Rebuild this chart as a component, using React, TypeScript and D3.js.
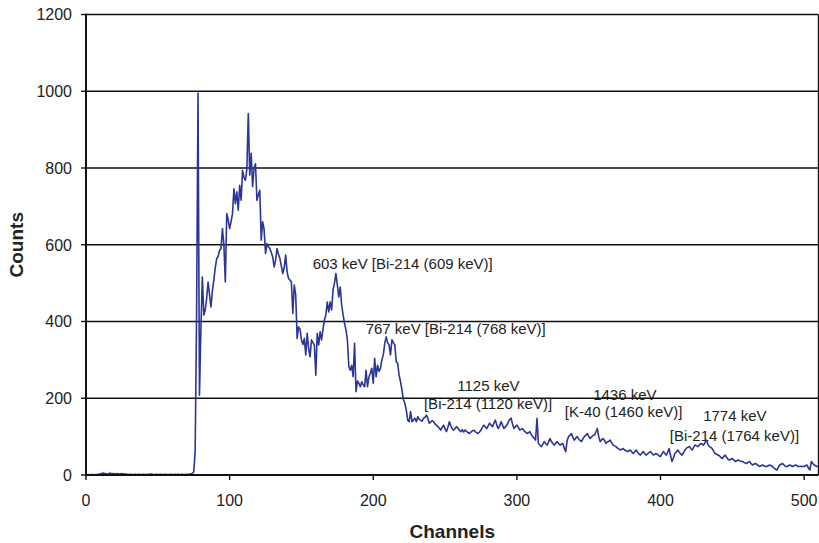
import React from 'react';
import * as d3 from 'd3';

// spectrum, one value per channel starting at channel 1
const firstChannel = 1;
const counts = [
  0, 1, 0, 1, 1, 0, 1, 1, 2,
  3, 4, 5, 4, 3, 2, 4, 5, 3, 4,
  3, 3, 4, 2, 3, 4, 2, 3, 2, 2,
  1, 2, 1, 1, 2, 1, 1, 2, 1, 1,
  2, 1, 1, 2, 1, 3, 2, 1, 1, 2,
  1, 1, 2, 1, 1, 2, 1, 1, 1, 2,
  1, 1, 2, 1, 2, 1, 1, 2, 1, 1,
  2, 1, 2, 3, 4, 8, 60, 420, 995, 208,
  380, 516, 417, 430, 460, 503, 470, 438, 480, 508,
  540, 564, 570, 586, 590, 642, 600, 503, 681, 665,
  642, 660, 681, 746, 707, 738, 690, 755, 716, 794,
  775, 768, 798, 942, 781, 838, 751, 800, 811, 716,
  730, 742, 612, 660, 640, 577, 603, 595, 590, 580,
  568, 542, 560, 590, 575, 564, 545, 525, 540, 573,
  530, 512, 508, 503, 421, 495, 470, 356, 386, 380,
  352, 340, 356, 313, 369, 330, 308, 352, 345, 339,
  260, 369, 339, 373, 352, 380, 404, 417, 451, 425,
  451, 430, 482, 500, 525, 495, 464, 490, 443, 417,
  395, 378, 352, 282, 273, 286, 256, 343, 217, 245,
  239, 230, 243, 235, 230, 273, 230, 256, 265, 278,
  239, 304, 256, 286, 270, 278, 300, 313, 343, 360,
  345, 339, 313, 352, 345, 339, 295, 291, 260, 243,
  221, 196, 187, 169, 143, 139, 165, 139, 143, 148,
  139, 152, 145, 143, 140, 148, 150, 156, 148, 135,
  138, 142, 139, 133, 130, 126, 122, 117, 124, 130,
  120, 113, 125, 139, 128, 120, 117, 121, 126, 122,
  116, 113, 118, 112, 117, 114, 110, 108, 112, 115,
  117, 113, 110, 108, 112, 117, 124, 130, 125, 121,
  128, 135, 130, 126, 135, 143, 130, 121, 128, 139,
  130, 121, 126, 130, 138, 145, 148, 132, 121, 126,
  130, 124, 117, 119, 121, 115, 112, 108, 110, 113,
  106, 100, 96, 91, 148, 82, 78, 74, 80, 87,
  82, 78, 85, 95, 88, 82, 78, 83, 87, 82,
  78, 80, 82, 70, 61, 90, 100, 104, 108, 98,
  91, 96, 100, 94, 90, 87, 95, 100, 104, 108,
  101, 95, 99, 103, 104, 112, 121, 100, 87, 92,
  95, 90, 82, 86, 88, 91, 84, 78, 76, 74,
  70, 68, 65, 67, 69, 65, 63, 61, 63, 65,
  60, 56, 60, 65, 60, 55, 52, 57, 61, 56,
  52, 55, 58, 61, 56, 52, 54, 56, 53, 50,
  48, 55, 61, 56, 52, 60, 69, 50, 35, 45,
  56, 60, 65, 60, 55, 52, 58, 65, 70, 72,
  74, 69, 65, 72, 78, 76, 74, 78, 82, 80,
  78, 85, 91, 80, 74, 72, 69, 62, 56, 54,
  52, 50, 46, 43, 48, 52, 46, 41, 39, 41,
  43, 39, 35, 37, 39, 37, 36, 35, 33, 31,
  30, 33, 35, 30, 26, 28, 30, 28, 25, 22,
  24, 26, 24, 22, 22, 24, 26, 24, 22, 18,
  15, 13, 20, 26, 28, 30, 26, 22, 22, 24,
  26, 24, 22, 24, 26, 24, 22, 22, 23, 22,
  22, 24, 26, 18, 13, 35, 30, 26, 24, 22,
  22,
];

const xTicks = [0, 100, 200, 300, 400, 500];
const yTicks = [0, 200, 400, 600, 800, 1000, 1200];

// peak annotations, anchored (text start, baseline) in data units
const labelTexts = [
  '603 keV [Bi-214 (609 keV)]',
  '767 keV [Bi-214 (768 keV)]',
  '1125 keV',
  '[Bi-214 (1120 keV)]',
  '1436 keV',
  '[K-40 (1460 keV)]',
  '1774 keV',
  '[Bi-214 (1764 keV)]',
];
const labelChannels = [157.8, 194.7, 258.5, 235.3, 353.1, 333.4, 429.7, 406.5];
const labelCounts = [538, 367, 220, 171, 196, 152, 141, 89];

const width = 819;
const height = 543;
const margin = { top: 14.5, right: 0.5, bottom: 68, left: 86 };
const font = '"Liberation Sans", Arial, sans-serif';

export default function App() {
  const innerRight = width - margin.right;
  const innerBottom = height - margin.bottom;

  const x = d3.scaleLinear().domain([0, 510]).range([margin.left, innerRight]);
  const y = d3.scaleLinear().domain([0, 1200]).range([innerBottom, margin.top]);

  const line = d3
    .line<number>()
    .x((_, i) => x(i + firstChannel))
    .y(d => y(d));

  return (
    <div style={{ position: 'absolute', left: 0, top: 0 }}>
      <svg width={width} height={height} style={{ display: 'block', background: '#fff' }}>
        {/* annotations */}
        {labelTexts.map((t, i) => (
          <text
            key={t + i}
            x={x(labelChannels[i])}
            y={y(labelCounts[i])}
            fontFamily={font}
            fontSize={15}
            fill="#222"
          >
            {t}
          </text>
        ))}

        {/* grid lines */}
        {yTicks.filter(t => t > 0).map(t => (
          <line
            key={t}
            x1={margin.left}
            x2={innerRight}
            y1={y(t)}
            y2={y(t)}
            stroke="#111"
            strokeWidth={1.6}
          />
        ))}

        {/* right border */}
        <line x1={innerRight} x2={innerRight} y1={y(1200)} y2={innerBottom} stroke="#111" strokeWidth={1.4} />

        {/* spectrum */}
        <path
          d={line(counts) ?? ''}
          fill="none"
          stroke="#2b3596"
          strokeWidth={1.6}
          strokeLinejoin="round"
        />

        {/* y axis */}
        <line x1={margin.left} x2={margin.left} y1={y(1200) - 0.8} y2={innerBottom} stroke="#111" strokeWidth={2} />
        {yTicks.map(t => (
          <g key={t}>
            <line x1={margin.left - 5} x2={margin.left} y1={y(t)} y2={y(t)} stroke="#111" strokeWidth={1.4} />
            <text
              x={margin.left - 14}
              y={y(t)}
              dy="0.36em"
              textAnchor="end"
              fontFamily={font}
              fontSize={16}
              fill="#222"
            >
              {t}
            </text>
          </g>
        ))}

        {/* x axis */}
        <line x1={margin.left} x2={innerRight} y1={innerBottom} y2={innerBottom} stroke="#111" strokeWidth={2} />
        {xTicks.map(t => (
          <g key={t}>
            <line x1={x(t)} x2={x(t)} y1={innerBottom} y2={innerBottom + 5} stroke="#111" strokeWidth={1.4} />
            <text
              x={x(t)}
              y={innerBottom + 31}
              textAnchor="middle"
              fontFamily={font}
              fontSize={16}
              fill="#222"
            >
              {t}
            </text>
          </g>
        ))}

        {/* axis titles */}
        <text
          x={(margin.left + innerRight) / 2}
          y={538}
          textAnchor="middle"
          fontFamily={font}
          fontSize={19}
          fontWeight="bold"
          fill="#222"
        >
          Channels
        </text>
        <text
          transform={`translate(22.5, ${(margin.top + innerBottom) / 2}) rotate(-90)`}
          textAnchor="middle"
          fontFamily={font}
          fontSize={19}
          fontWeight="bold"
          fill="#222"
        >
          Counts
        </text>
      </svg>
    </div>
  );
}
